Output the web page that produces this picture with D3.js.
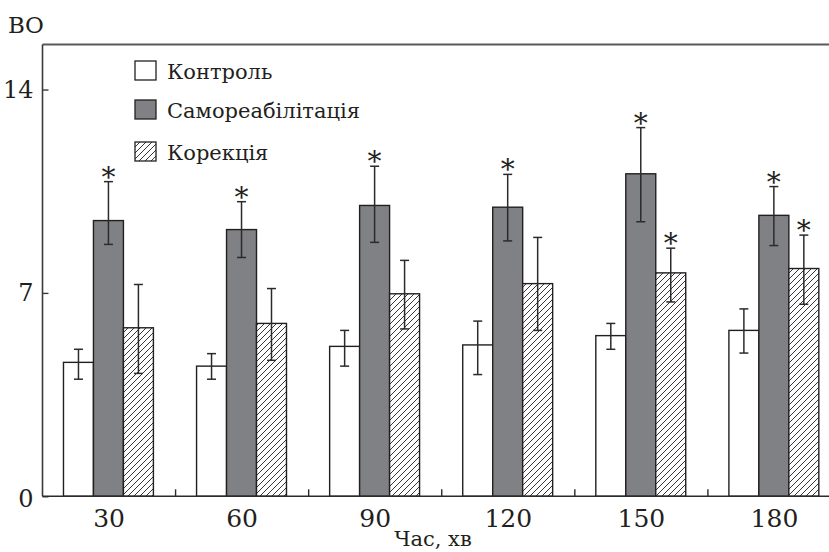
<!DOCTYPE html>
<html><head><meta charset="utf-8">
<script src="https://cdn.jsdelivr.net/npm/d3@7"></script>
<style>body{margin:0;background:#fff}svg{display:block}text{font-family:"DejaVu Serif",serif;fill:#231f20}</style>
</head><body><svg id="c" width="829" height="552"></svg>
<script>
const categories = ["30","60","90","120","150","180"];
const seriesNames = ["Контроль","Самореабілітація","Корекція"];
const control     = [4.61, 4.48, 5.16, 5.21, 5.53, 5.71];
const controlLo   = [4.03, 4.03, 4.48, 4.19, 5.06, 4.93];
const controlHi   = [5.06, 4.91, 5.71, 6.03, 5.95, 6.45];
const selfRehab   = [9.49, 9.18, 10.01, 9.95, 11.10, 9.67];
const selfRehabLo = [8.67, 8.22, 8.74, 8.79, 9.45, 8.63];
const selfRehabHi = [10.83, 10.14, 11.36, 11.08, 12.69, 10.66];
const correction   = [5.80, 5.95, 6.97, 7.32, 7.69, 7.84];
const correctionLo = [4.23, 4.68, 5.76, 5.71, 6.69, 6.61];
const correctionHi = [7.29, 7.15, 8.12, 8.91, 8.54, 8.99];
const selfRehabSig  = [true, true, true, true, true, true];
const correctionSig = [false, false, false, false, true, true];
const yTicks = [0, 7, 14];
const yLabel = "ВО";
const xLabel = "Час, хв";

const series = [
  {name: seriesNames[0], v: control, lo: controlLo, hi: controlHi, sig: categories.map(() => false), fill: "#fff"},
  {name: seriesNames[1], v: selfRehab, lo: selfRehabLo, hi: selfRehabHi, sig: selfRehabSig, fill: "#808184"},
  {name: seriesNames[2], v: correction, lo: correctionLo, hi: correctionHi, sig: correctionSig, fill: "url(#hatch)"}
];

const svg = d3.select("#c");
const defs = svg.append("defs");
const pat = defs.append("pattern").attr("id","hatch").attr("patternUnits","userSpaceOnUse")
  .attr("width",6).attr("height",6);
pat.append("rect").attr("width",6).attr("height",6).attr("fill","#fff");
pat.append("path").attr("d","M-1,1 l2,-2 M0,6 l6,-6 M5,7 l2,-2").attr("stroke","#231f20").attr("stroke-width",0.9);

const L = 42.5, R = 841, T = 44.5, B = 496.3;
const x = d3.scaleBand().domain(categories).range([L, R]).paddingInner(0).paddingOuter(0);
const x1 = d3.scaleBand().domain(seriesNames).range([-0.6, x.bandwidth() - 0.6]).paddingInner(0).paddingOuter(0.72);
const y = d3.scaleLinear().domain([0, 15.55]).range([B, T]);

// frame
svg.append("line").attr("x1",L).attr("x2",829).attr("y1",T).attr("y2",T).attr("stroke","#5a5a5a").attr("stroke-width",2);

const g = svg.append("g");
series.forEach(s => {
  const gs = g.append("g");
  categories.forEach((c, i) => {
    const bx = x(c) + x1(s.name), bw = x1.bandwidth();
    gs.append("rect").attr("x", bx).attr("y", y(s.v[i])).attr("width", bw).attr("height", y(0) - y(s.v[i]))
      .attr("fill", s.fill).attr("stroke", "#231f20").attr("stroke-width", 1.4);
    const cx = bx + bw / 2;
    gs.append("line").attr("x1",cx).attr("x2",cx).attr("y1",y(s.lo[i])).attr("y2",y(s.hi[i])).attr("stroke","#2b2b2b").attr("stroke-width",1.5);
    [s.lo[i], s.hi[i]].forEach(v => gs.append("line").attr("x1",cx-4.5).attr("x2",cx+4.5).attr("y1",y(v)).attr("y2",y(v)).attr("stroke","#2b2b2b").attr("stroke-width",1.5));
    if (s.sig[i]) gs.append("text").attr("x",cx).attr("y",y(s.hi[i]) + 5).attr("text-anchor","middle")
      .attr("font-family","Liberation Serif").attr("font-size",28).text("*");
  });
});

// axes
const yAxis = d3.axisLeft(y).tickValues(yTicks).tickSize(-6).tickPadding(9).tickFormat(d3.format("d"));
const ya = svg.append("g").attr("transform",`translate(${L},0)`).call(yAxis);
ya.select(".domain").attr("stroke","#3a3a3a").attr("stroke-width",1.6).attr("d",`M0,${T}V${B}`);
ya.selectAll(".tick line").attr("stroke","#3a3a3a").attr("stroke-width",1.4);
ya.selectAll("text").attr("font-size",24).attr("font-family","Liberation Serif").attr("fill","#231f20");
ya.selectAll(".tick text").filter(d => d === 0).attr("dy","0.42em");

const xAxis = d3.axisBottom(x).tickSize(0).tickPadding(13);
const xa = svg.append("g").attr("transform",`translate(0,${B})`).call(xAxis);
xa.select(".domain").attr("stroke","#2b2b2b").attr("stroke-width",1.6).attr("d",`M${L},0H829`);
xa.selectAll("text").attr("font-size",25).attr("font-family","Liberation Serif").attr("fill","#231f20").attr("dy","0.72em");
// separators between groups
svg.append("g").selectAll("line").data(categories.slice(1)).join("line")
  .attr("x1", d => x(d)).attr("x2", d => x(d)).attr("y1", B).attr("y2", B - 7)
  .attr("stroke","#2b2b2b").attr("stroke-width",1.4);

svg.append("text").attr("x",8).attr("y",33).attr("font-size",23).text(yLabel);
svg.append("text").attr("x",433).attr("y",546).attr("text-anchor","middle").attr("font-size",21).text(xLabel);

// legend
const lg = svg.append("g");
const legY = [71, 110, 152];
series.forEach((s, i) => {
  lg.append("rect").attr("x",135).attr("y",legY[i]-10).attr("width",21).attr("height",19)
    .attr("fill", s.fill).attr("stroke","#231f20").attr("stroke-width",1.3);
  lg.append("text").attr("x",167).attr("y",legY[i]+8).attr("font-size",21).text(s.name);
});
</script></body></html>
